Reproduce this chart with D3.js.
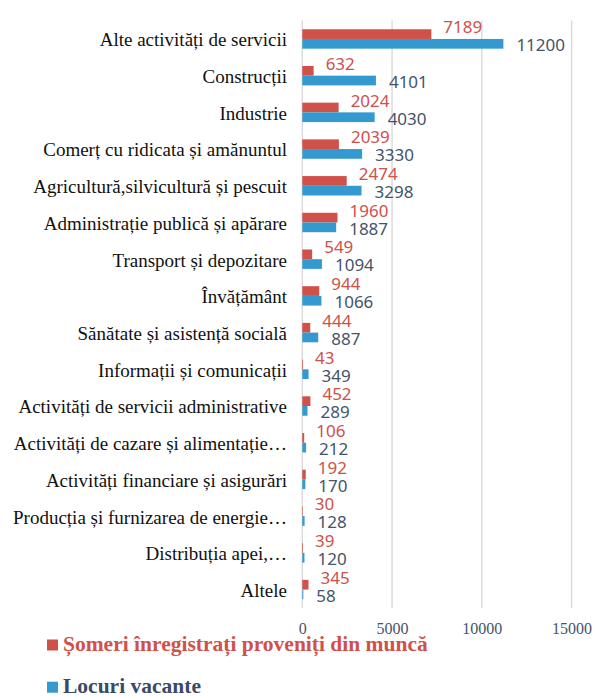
<!DOCTYPE html>
<html>
<head>
<meta charset="utf-8">
<script src="https://cdn.jsdelivr.net/npm/d3@7"></script>
<style>
  body { margin: 0; background: #fff; }
</style>
</head>
<body>
<div id="chart"></div>
<script>
// categories top -> bottom
let categories = [
    "Alte activități de servicii",
    "Construcții",
    "Industrie",
    "Comerț cu ridicata și amănuntul",
    "Agricultură,silvicultură și pescuit",
    "Administrație publică și apărare",
    "Transport și depozitare",
    "Învățământ",
    "Sănătate și asistență socială",
    "Informații și comunicații",
    "Activități de servicii administrative",
    "Activități de cazare și alimentație…",
    "Activități financiare și asigurări",
    "Producția și furnizarea de energie…",
    "Distribuția apei,…",
    "Altele"
];
let someri = [7189, 632, 2024, 2039, 2474, 1960, 549, 944, 444, 43, 452, 106, 192, 30, 39, 345];
let locuri = [11200, 4101, 4030, 3330, 3298, 1887, 1094, 1066, 887, 349, 289, 212, 170, 128, 120, 58];
let seriesNames = ["Șomeri înregistrați proveniți din muncă", "Locuri vacante"];
let xTicks = [0, 5000, 10000, 15000];

let width = 595, height = 696;
let red = "#d0504a", blue = "#3399cf", slate = "#44546a";

let svg = d3.select("#chart").append("svg")
    .attr("width", width)
    .attr("height", height);

let x = d3.scaleLinear()
    .domain([0, 15000])
    .range([302.3, 571.6]);

let y = d3.scaleBand()
    .domain(categories)
    .range([20.6, 607.9])
    .paddingInner(0.471)
    .paddingOuter(0.2355);

let bh = y.bandwidth() / 2;

// gridlines
svg.append("g").selectAll("line")
    .data(xTicks)
    .enter().append("line")
    .attr("x1", d => x(d)).attr("x2", d => x(d))
    .attr("y1", 20.6).attr("y2", 607.9)
    .style("stroke", "#d9d9d9")
    .style("stroke-width", 1.4);

// x axis labels
let xAxis = svg.append("g")
    .attr("transform", "translate(0,634)")
    .call(d3.axisBottom(x).tickValues(xTicks).tickSize(0).tickPadding(0).tickFormat(d3.format("d")));
xAxis.select(".domain").remove();
xAxis.selectAll("text")
    .attr("dy", 0)
    .style("font-family", "'Liberation Serif', serif")
    .style("font-size", "16px")
    .style("fill", slate);

// category labels
let yAxis = svg.append("g")
    .attr("transform", "translate(287,0)")
    .call(d3.axisLeft(y).tickSize(0).tickPadding(0));
yAxis.select(".domain").remove();
yAxis.selectAll("text")
    .attr("dy", "0.39em")
    .style("font-family", "'Liberation Serif', serif")
    .style("font-size", "19px")
    .style("fill", "#111");

let data = categories.map((c, i) => ({cat: c, s: someri[i], l: locuri[i]}));

// bars
svg.selectAll(".barS")
    .data(data)
    .enter().append("rect")
    .attr("class", "barS")
    .attr("x", x(0))
    .attr("y", d => y(d.cat))
    .attr("width", d => x(d.s) - x(0))
    .attr("height", bh)
    .style("fill", red);

svg.selectAll(".barL")
    .data(data)
    .enter().append("rect")
    .attr("class", "barL")
    .attr("x", x(0))
    .attr("y", d => y(d.cat) + bh)
    .attr("width", d => x(d.l) - x(0))
    .attr("height", bh)
    .style("fill", blue);

// value labels
svg.selectAll(".lblS")
    .data(data)
    .enter().append("text")
    .attr("class", "lblS")
    .attr("x", d => x(d.s) + 12)
    .attr("y", d => y(d.cat) + 4)
    .style("font-family", "'Noto Sans', sans-serif")
    .style("font-size", "17px")
    .style("fill", red)
    .text(d => d.s);

svg.selectAll(".lblL")
    .data(data)
    .enter().append("text")
    .attr("class", "lblL")
    .attr("x", d => x(d.l) + 13)
    .attr("y", d => y(d.cat) + 2 * bh + 2.5)
    .style("font-family", "'Noto Sans', sans-serif")
    .style("font-size", "17px")
    .style("fill", slate)
    .text(d => d.l);

// legend
let legend = svg.append("g");
let legY = [650.5, 692.7];
let legColors = [red, blue];
let legText = [red, "#3a4a66"];
seriesNames.forEach((n, i) => {
    legend.append("rect")
        .attr("x", 47).attr("y", legY[i] - 11)
        .attr("width", 11).attr("height", 11)
        .style("fill", legColors[i]);
    legend.append("text")
        .attr("x", 63).attr("y", legY[i])
        .style("font-family", "'Liberation Serif', serif")
        .style("font-weight", "bold")
        .style("font-size", "21.5px")
        .style("fill", legText[i])
        .text(n);
});
</script>
</body>
</html>
